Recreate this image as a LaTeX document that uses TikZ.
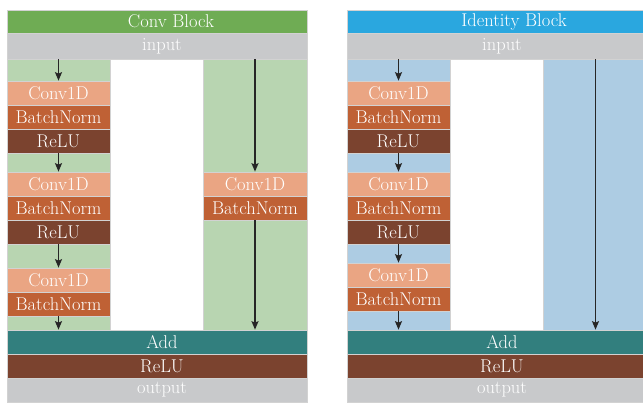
\documentclass[tikz,border=0pt]{standalone}
\usetikzlibrary{arrows.meta}
\definecolor{cbgreen}{HTML}{6FAC54}
\definecolor{cbblue}{HTML}{2AA7DF}
\definecolor{cbgray}{HTML}{C8C9CB}
\definecolor{cblgreen}{HTML}{B8D5B1}
\definecolor{cblblue}{HTML}{ADCCE3}
\definecolor{cbconv}{HTML}{EAA583}
\definecolor{cbbn}{HTML}{BF6135}
\definecolor{cbrelu}{HTML}{7B432F}
\definecolor{cbadd}{HTML}{327F7E}
\definecolor{cbline}{HTML}{D2D2D2}
\definecolor{cbarrow}{HTML}{262626}
\tikzset{
  box/.style={rectangle, draw=cbline, line width=0.7pt, inner sep=0pt, text=white,
    font=\fontsize{18.5}{20}\selectfont, minimum height=24pt},
  colbox/.style={box, minimum width=103pt},
  fullbox/.style={box, minimum width=300pt},
  convbox/.style={colbox, fill=cbconv},
  bnbox/.style={colbox, fill=cbbn},
  relubox/.style={colbox, fill=cbrelu},
  colbg/.style={draw=cbline, line width=0.7pt},
  arr/.style={draw=cbarrow, line width=1.4pt, -{Stealth[length=8.5pt,width=7pt,inset=1.5pt]}},
}
\begin{document}
\begin{tikzpicture}[x=1pt,y=-1pt]
\useasboundingbox (0,0) rectangle (643,402);
\fill[white] (0,0) rectangle (643,402);
% ---------------- Conv Block ----------------
\node[fullbox, fill=cbgreen, minimum height=23pt] (ctitle) at (157,21.5) {\hspace*{28pt}Conv Block};
\node[fullbox, fill=cbgray, minimum height=26pt] (cinput) at (157,46) {\hspace*{10pt}input};
\draw[colbg, fill=cblgreen] (7,59) rectangle (110,330);
\draw[colbg, fill=cblgreen] (203,59) rectangle (307,330);
\node[convbox] (cconv1) at (58.5,93) {Conv1D};
\node[bnbox] (cbn1) at (58.5,117) {BatchNorm};
\node[relubox] (crelu1) at (58.5,141) {ReLU};
\node[convbox] (cconv2) at (58.5,184) {Conv1D};
\node[bnbox] (cbn2) at (58.5,208) {BatchNorm};
\node[relubox] (crelu2) at (58.5,232) {ReLU};
\node[convbox] (cconv3) at (58.5,280) {Conv1D};
\node[bnbox] (cbn3) at (58.5,304) {BatchNorm};
\node[convbox, minimum width=104pt] (crconv) at (255,184) {Conv1D};
\node[bnbox, minimum width=104pt] (crbn) at (255,208) {BatchNorm};
\node[fullbox, fill=cbadd] (cadd) at (157,342) {\hspace*{10pt}Add};
\node[fullbox, fill=cbrelu] (crelu) at (157,366) {\hspace*{10pt}ReLU};
\node[fullbox, fill=cbgray] (coutput) at (157,390) {\hspace*{10pt}output};
\draw[arr] (cconv1.north |- cinput.south) -- (cconv1.north);
\draw[arr] (crelu1.south) -- (cconv2.north);
\draw[arr] (crelu2.south) -- (cconv3.north);
\draw[arr] (cbn3.south) -- (cbn3.south |- cadd.north);
\draw[arr] (crconv.north |- cinput.south) -- (crconv.north);
\draw[arr] (crbn.south) -- (crbn.south |- cadd.north);
% ---------------- Identity Block ----------------
\node[fullbox, fill=cbblue, minimum height=23pt] (ititle) at (497,21.5) {\hspace*{34pt}Identity Block};
\node[fullbox, fill=cbgray, minimum height=26pt] (iinput) at (497,46) {\hspace*{10pt}input};
\draw[colbg, fill=cblblue] (347,59) rectangle (450,330);
\draw[colbg, fill=cblblue] (543,59) rectangle (647,330);
\node[convbox] (iconv1) at (398.5,93) {Conv1D};
\node[bnbox] (ibn1) at (398.5,117) {BatchNorm};
\node[relubox] (irelu1) at (398.5,141) {ReLU};
\node[convbox] (iconv2) at (398.5,184) {Conv1D};
\node[bnbox] (ibn2) at (398.5,208) {BatchNorm};
\node[relubox] (irelu2) at (398.5,232) {ReLU};
\node[convbox] (iconv3) at (398.5,275) {Conv1D};
\node[bnbox] (ibn3) at (398.5,299) {BatchNorm};
\coordinate (iskip) at (595.5,59);
\node[fullbox, fill=cbadd] (iadd) at (497,342) {\hspace*{10pt}Add};
\node[fullbox, fill=cbrelu] (irelu) at (497,366) {\hspace*{10pt}ReLU};
\node[fullbox, fill=cbgray] (ioutput) at (497,390) {\hspace*{10pt}output};
\draw[arr] (iconv1.north |- iinput.south) -- (iconv1.north);
\draw[arr] (irelu1.south) -- (iconv2.north);
\draw[arr] (irelu2.south) -- (iconv3.north);
\draw[arr] (ibn3.south) -- (ibn3.south |- iadd.north);
\draw[arr] (iskip |- iinput.south) -- (iskip |- iadd.north);
\end{tikzpicture}
\end{document}
